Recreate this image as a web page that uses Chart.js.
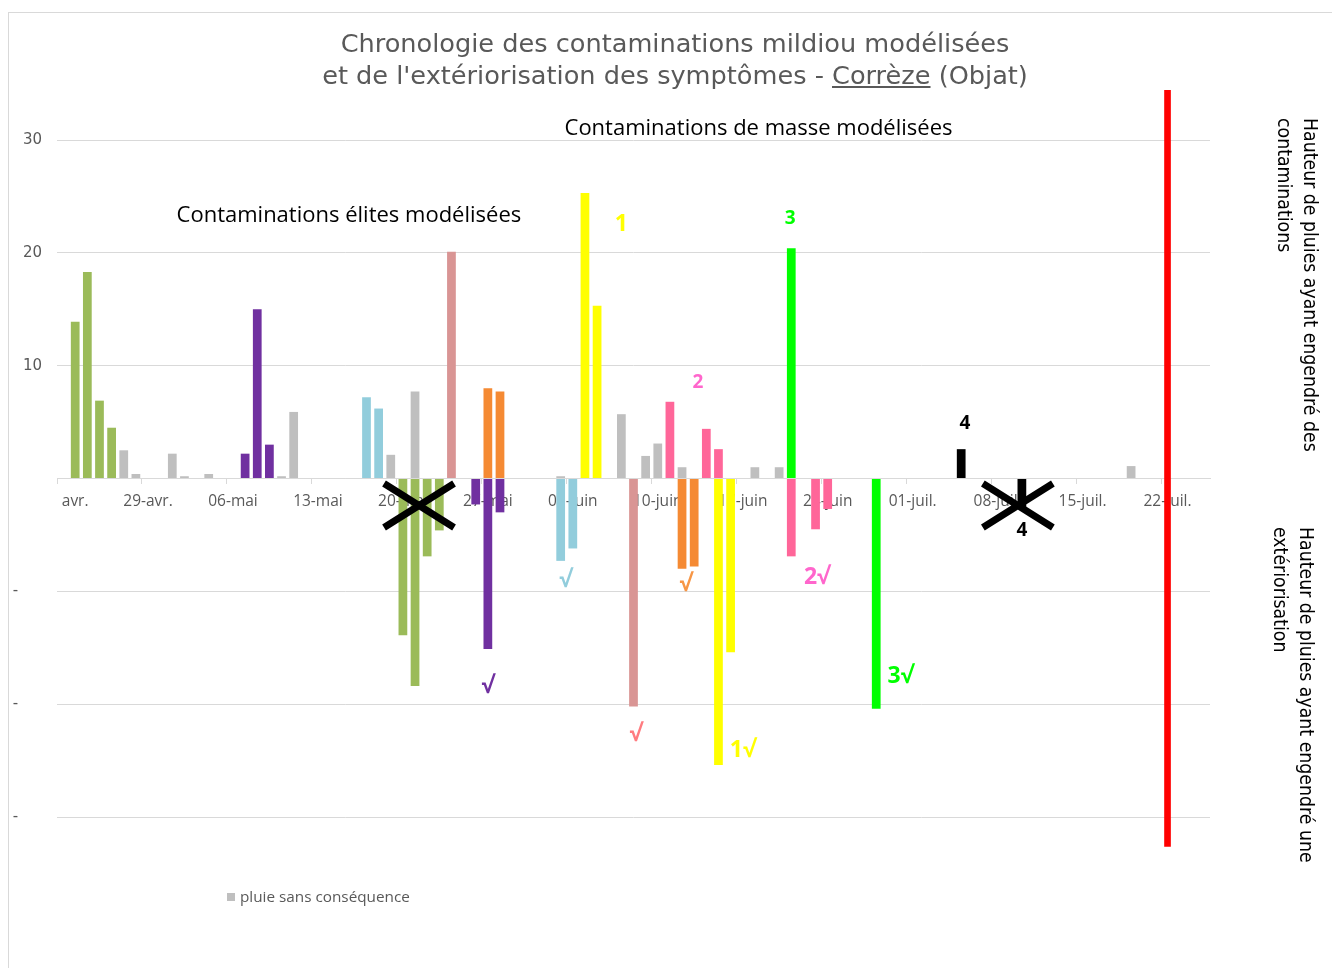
<!DOCTYPE html>
<html lang="fr">
<head>
<meta charset="utf-8">
<title>Chronologie des contaminations mildiou - Corrèze (Objat)</title>
<script src="https://cdn.jsdelivr.net/npm/chart.js@4.4.1/dist/chart.umd.min.js"></script>
<style>
  html, body { margin: 0; padding: 0; background: #fff; }
  #wrap { position: relative; width: 1332px; height: 968px; overflow: hidden; }
  #frame { position: absolute; left: 8px; top: 12px; width: 1400px; height: 1000px; border: 1px solid #d9d9d9; }
  #chart { position: absolute; left: 0; top: 0; }
  #title { position: absolute; left: 175px; top: 27px; width: 1000px; text-align: center;
           font: 25.6px 'DejaVu Sans', sans-serif; line-height: 32px; color: #595959; }
  .side { position: absolute; transform: rotate(90deg); transform-origin: 0 0; white-space: nowrap;
          font: 19.3px 'Liberation Sans Narrow', 'DejaVu Sans Condensed', sans-serif; line-height: 26px; color: #000; }
  #legend { position: absolute; left: 227px; top: 886px; font: 15.3px 'Open Sans', sans-serif; line-height: 20px; color: #595959; }
  #legend .sw { display: inline-block; width: 8px; height: 8px; background: #bfbfbf; margin-right: 5px; vertical-align: 1px; }
</style>
</head>
<body>
<div id="wrap">
  <div id="frame"></div>
  <canvas id="chart" width="1332" height="968"></canvas>
  <div id="title">Chronologie des contaminations mildiou modélisées<br>et de l'extériorisation des symptômes - <u>Corrèze</u> (Objat)</div>
  <div class="side" style="left:1323px; top:118px;">Hauteur de pluies ayant engendré des<br>contaminations</div>
  <div class="side" style="left:1319px; top:527px;">Hauteur de pluies ayant engendré une<br>extériorisation</div>
  <div id="legend"><span class="sw"></span>pluie sans conséquence</div>
</div>
<script>
// one category per day, 22 avril -> 25 juillet
const months = [['avr.', 30], ['mai', 31], ['juin', 30], ['juil.', 31]];
const allDays = [];
for (const [name, len] of months) {
  for (let d = 1; d <= len; d++) allDays.push(String(d).padStart(2, '0') + '-' + name);
}
const days = allDays.slice(allDays.indexOf('22-avr.'), allDays.indexOf('25-juil.') + 1);

// rain (mm) : positive = contamination, negative = extériorisation
const rainNoEffect = [['27-avr.', 2.5], ['28-avr.', 0.4], ['01-mai', 2.2], ['02-mai', 0.2], ['04-mai', 0.4],
  ['10-mai', 0.2], ['11-mai', 5.9], ['19-mai', 2.1], ['21-mai', 7.7], ['02-juin', 0.2], ['07-juin', 5.7],
  ['09-juin', 2.0], ['10-juin', 3.1], ['12-juin', 1.0], ['18-juin', 1.0], ['20-juin', 1.0], ['19-juil.', 1.1]];
const eliteA = [['23-avr.', 13.9], ['24-avr.', 18.3], ['25-avr.', 6.9], ['26-avr.', 4.5],
  ['20-mai', -13.9], ['21-mai', -18.4], ['22-mai', -6.9], ['23-mai', -4.6]];
const eliteB = [['07-mai', 2.2], ['08-mai', 15.0], ['09-mai', 3.0],
  ['26-mai', -2.3], ['27-mai', -15.1], ['28-mai', -3.0]];
const eliteC = [['17-mai', 7.2], ['18-mai', 6.2], ['02-juin', -7.3], ['03-juin', -6.2]];
const eliteD = [['24-mai', 20.1], ['08-juin', -20.2]];
const eliteE = [['27-mai', 8.0], ['28-mai', 7.7], ['12-juin', -8.0], ['13-juin', -7.8]];
const masse1 = [['04-juin', 25.3], ['05-juin', 15.3], ['15-juin', -25.4], ['16-juin', -15.4]];
const masse2 = [['11-juin', 6.8], ['14-juin', 4.4], ['15-juin', 2.6],
  ['21-juin', -6.9], ['23-juin', -4.5], ['24-juin', -2.7]];
const masse3 = [['21-juin', 20.4], ['28-juin', -20.4]];
const masse4 = [['05-juil.', 2.6], ['10-juil.', -2.6]];

// vertical marker (date of the bulletin)
const markerDay = '22-juil.';
const markerRange = [-32.6, 34.4];

const yTicks = [-30, -20, -10, 0, 10, 20, 30];

// text marks placed in data units
const marks = [
  { text: 'Contaminations de masse modélisées', day: '18-juin', shift: 0.3, value: 31.0, color: '#000', size: 22, bold: false },
  { text: 'Contaminations élites modélisées', day: '15-mai', shift: 0.55, value: 23.3, color: '#000', size: 22, bold: false },
  { text: '1', day: '07-juin', shift: 0, value: 22.5, color: '#FFFF00', size: 23, bold: true },
  { text: '2', day: '13-juin', shift: 0.3, value: 8.5, color: '#FF66CC', size: 19, bold: true },
  { text: '3', day: '21-juin', shift: -0.1, value: 23.0, color: '#00FF00', size: 19, bold: true },
  { text: '4', day: '05-juil.', shift: 0.3, value: 4.9, color: '#000', size: 19, bold: true },
  { text: '√', day: '02-juin', shift: 0.4, value: -9.0, color: '#92CDDC', size: 23, bold: true },
  { text: '√', day: '27-mai', shift: 0, value: -18.4, color: '#7030A0', size: 23, bold: true },
  { text: '√', day: '08-juin', shift: 0.2, value: -22.7, color: '#FF7C80', size: 23, bold: true },
  { text: '√', day: '12-juin', shift: 0.3, value: -9.35, color: '#F79646', size: 23, bold: true },
  { text: '1√', day: '17-juin', shift: 0, value: -24.1, color: '#FFFF00', size: 23, bold: true },
  { text: '2√', day: '23-juin', shift: 0.1, value: -8.8, color: '#FF66CC', size: 23, bold: true },
  { text: '3√', day: '30-juin', shift: 0, value: -17.5, color: '#00FF00', size: 23, bold: true },
  { text: '4', day: '10-juil.', shift: 0, value: -4.65, color: '#000', size: 19, bold: true }
];
// crossed out exteriorisations
const crosses = [['21-mai', 0.33, -2.4], ['09-juil.', 0.67, -2.4]];

function toPoints(list) {
  return list.map(([d, v]) => ({ x: d, y: v }));
}

const groups = [
  ['pluie sans conséquence', rainNoEffect, '#BFBFBF'],
  ['élite A', eliteA, '#9BBB59'],
  ['élite B', eliteB, '#7030A0'],
  ['élite C', eliteC, '#92CDDC'],
  ['élite D', eliteD, '#D99594'],
  ['élite E', eliteE, '#F58A33'],
  ['masse 1', masse1, '#FFFF00'],
  ['masse 2', masse2, '#FF6699'],
  ['masse 3', masse3, '#00FF00'],
  ['masse 4', masse4, '#000000']
];

const datasets = groups.map(([label, list, color]) => ({
  label: label,
  data: toPoints(list),
  backgroundColor: color,
  borderWidth: 0
}));
datasets.push({
  label: 'marker',
  data: [{ x: markerDay, y: markerRange }],
  backgroundColor: '#FF0000',
  grouped: false,
  stack: 'marker',
  barThickness: 6,
  clip: false
});

const overlay = {
  id: 'overlay',
  afterDatasetsDraw(chart) {
    const { ctx, scales: { x, y } } = chart;
    ctx.save();
    ctx.textAlign = 'center';
    ctx.textBaseline = 'middle';
    marks.forEach(m => {
      ctx.font = (m.bold ? 'bold ' : '') + m.size + "px 'Open Sans', 'DejaVu Sans', sans-serif";
      ctx.fillStyle = m.color;
      ctx.fillText(m.text, x.getPixelForValue(days.indexOf(m.day) + m.shift), y.getPixelForValue(m.value));
    });
    ctx.strokeStyle = '#000';
    ctx.lineWidth = 7;
    crosses.forEach(([d, shift, v]) => {
      const cx = x.getPixelForValue(days.indexOf(d) + shift);
      const cy = y.getPixelForValue(v);
      ctx.beginPath();
      ctx.moveTo(cx - 35, cy - 22); ctx.lineTo(cx + 35, cy + 22);
      ctx.moveTo(cx - 35, cy + 22); ctx.lineTo(cx + 35, cy - 22);
      ctx.stroke();
    });
    ctx.restore();
  }
};

new Chart(document.getElementById('chart'), {
  type: 'bar',
  data: { labels: days, datasets: datasets },
  options: {
    responsive: false,
    animation: false,
    layout: { padding: { left: 0, top: 140, right: 122, bottom: 151 } },
    datasets: { bar: { barPercentage: 0.72, categoryPercentage: 1 } },
    plugins: { legend: { display: false }, tooltip: { enabled: false } },
    scales: {
      x: {
        stacked: true,
        position: { y: 0 },
        border: { color: '#d9d9d9' },
        grid: {
          offset: true,
          drawOnChartArea: false,
          tickLength: 5,
          color: c => (c.index % 7 === 0 ? '#d9d9d9' : 'rgba(0,0,0,0)')
        },
        ticks: {
          autoSkip: false,
          maxRotation: 0,
          minRotation: 0,
          padding: 9,
          color: '#595959',
          font: { family: "'Open Sans', sans-serif", size: 15.5 },
          callback: (v, i) => (i % 7 !== 0 ? '' : (i === 0 ? '      avr.' : days[i]))
        }
      },
      y: {
        stacked: true,
        min: yTicks[0],
        max: yTicks[yTicks.length - 1],
        afterFit: s => { s.width = 57; },
        afterBuildTicks: s => { s.ticks = yTicks.map(v => ({ value: v })); },
        border: { display: false },
        grid: { color: '#d9d9d9', drawTicks: false },
        ticks: {
          padding: 15,
          color: '#595959',
          font: { family: "'DejaVu Sans', sans-serif", size: 15 },
          callback: v => (v > 0 ? String(v) : (v < 0 ? '-     ' : ''))
        }
      }
    }
  },
  plugins: [overlay]
});
</script>
</body>
</html>
